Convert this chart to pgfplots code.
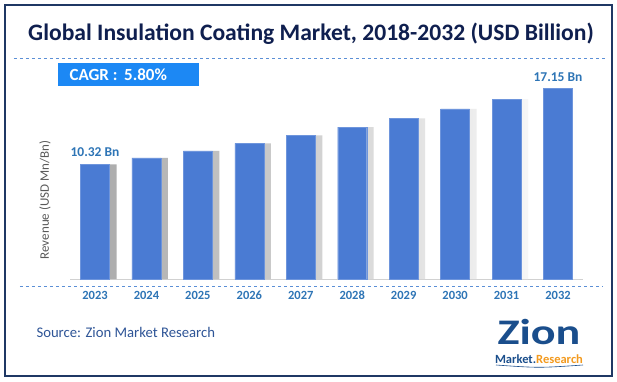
\documentclass[border=0pt]{standalone}
\usepackage{pgfplots}
\pgfplotsset{compat=1.18}
\usetikzlibrary{backgrounds}
\usepackage{fontspec}
\setmainfont[Numbers=Lining]{Carlito}
\definecolor{bordercol}{HTML}{1F3864}
\definecolor{titlecol}{HTML}{0F1F4F}
\definecolor{dashcol}{HTML}{5B8FD6}
\definecolor{cagrcol}{HTML}{1C88F4}
\definecolor{barcol}{HTML}{4A7BD3}
\definecolor{labcol}{HTML}{2E75B6}
\definecolor{srccol}{HTML}{2F5597}
\definecolor{logoblue}{HTML}{1A4E8C}
\definecolor{logoorange}{HTML}{F39A1E}
\pgfplotstableread{
x val
0 10.32
1 10.92
2 11.55
3 12.22
4 12.93
5 13.68
6 14.48
7 15.32
8 16.21
9 17.15
}\datatable
\begin{document}
\begin{tikzpicture}
\begin{axis}[
  scale only axis, width=513pt, height=222pt,
  xmin=-0.486, xmax=9.486, ymin=0, ymax=20,
  axis y line=none,
  axis x line*=bottom,
  x axis line style={draw=black!18, line width=0.8pt, -},
  xtick=data,
  xticklabels={2023,2024,2025,2026,2027,2028,2029,2030,2031,2032},
  xticklabel style={font=\bfseries\fontsize{12.5}{14}\selectfont, text=labcol, text height=8.5pt, text depth=0pt, yshift=-8pt},
  major tick length=0pt,
  clip=false,
]
\addplot[ybar, bar width=7pt, bar shift=18pt, draw=none, left color=black!32, right color=white] table[x=x,y=val] {\datatable};
\addplot[ybar, bar width=29pt, draw=barcol!80!white, line width=0.4pt, fill=barcol] table[x=x,y=val] {\datatable};
\node[font=\bfseries\fontsize{13.5}{15}\selectfont, text=labcol, above] at (axis cs:0,10.32) [yshift=4pt] {10.32 Bn};
\node[font=\bfseries\fontsize{13.5}{15}\selectfont, text=labcol, above] at (axis cs:9,17.15) [yshift=4pt] {17.15 Bn};
\coordinate (O) at (rel axis cs:0,0);
\end{axis}
\begin{scope}[shift={(O)}, xshift=-70pt, yshift=-102pt, x=1pt, y=1pt]
\begin{scope}[on background layer]
\fill[white] (0,0) rectangle (617,381);
\end{scope}
\draw[bordercol, line width=1.6pt] (5,5) rectangle (612,376);
\node[font=\bfseries\fontsize{23.6}{26}\selectfont, text=titlecol] at (311,347) {Global Insulation Coating Market, 2018-2032 (USD Billion)};
\draw[dashcol, dashed, line width=0.6pt] (14,323) -- (605,323);
\fill[cagrcol] (58,295) rectangle (199,318);
\node[font=\bfseries\fontsize{17}{19}\selectfont, text=white, anchor=west] at (66,306.5) {CAGR :\, 5.80\%};
\draw[dashcol, dashed, line width=0.6pt] (20,95) -- (603,95);
\node[font=\fontsize{13}{15}\selectfont, text=black!65, rotate=90] at (45,181) {Revenue (USD Mn/Bn)};
\node[font=\fontsize{14.7}{17}\selectfont, text=srccol, anchor=west] at (33,49) {Source: Zion Market Research};
\node[font=\bfseries\fontsize{36}{38}\selectfont, text=logoblue, xscale=1.28, anchor=base, inner sep=0pt] at (539,37) {Zion};
\node[font=\bfseries\fontsize{12.5}{14}\selectfont, anchor=base, inner sep=0pt] at (539,18) {\textcolor{logoblue}{Market}\textcolor{logoblue}{.}\textcolor{logoorange}{Research}};
\draw[logoblue, line width=0.6pt] (496,16) .. controls (539,13) .. (583,16);
\pgfresetboundingbox
\path[use as bounding box] (0,0) rectangle (617,381);
\end{scope}
\end{tikzpicture}
\end{document}
